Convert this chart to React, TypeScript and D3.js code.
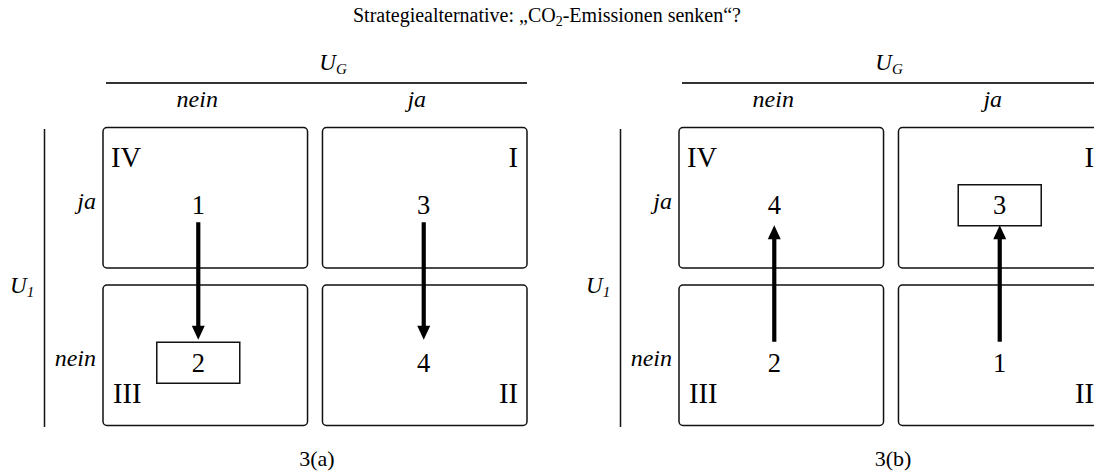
import React from "react";
import * as d3 from "d3";

const title = "Strategiealternative: „CO";
const titleSub = "2";
const titleEnd = "-Emissionen senken“?";
const colVar = "U";
const colVarSub = "G";
const rowVar = "U";
const rowVarSub = "1";
const columns = ["nein", "ja"];
const rows = ["ja", "nein"];
const quadrantLabels = [
  { row: "ja", col: "nein", label: "IV", corner: "tl" },
  { row: "ja", col: "ja", label: "I", corner: "tr" },
  { row: "nein", col: "nein", label: "III", corner: "bl" },
  { row: "nein", col: "ja", label: "II", corner: "br" },
];
const panelA = [
  { row: "ja", col: "nein", value: 1 },
  { row: "ja", col: "ja", value: 3 },
  { row: "nein", col: "nein", value: 2 },
  { row: "nein", col: "ja", value: 4 },
];
const panelB = [
  { row: "ja", col: "nein", value: 4 },
  { row: "ja", col: "ja", value: 3 },
  { row: "nein", col: "nein", value: 2 },
  { row: "nein", col: "ja", value: 1 },
];
const arrowsA = [
  { col: "nein", from: "ja", to: "nein" },
  { col: "ja", from: "ja", to: "nein" },
];
const arrowsB = [
  { col: "nein", from: "nein", to: "ja" },
  { col: "ja", from: "nein", to: "ja" },
];
const panels = [
  { caption: "3(a)", values: panelA, arrows: arrowsA, highlight: { row: "nein", col: "nein" }, offset: 0, headDx: 18 },
  { caption: "3(b)", values: panelB, arrows: arrowsB, highlight: { row: "ja", col: "ja" }, offset: 576, headDx: -2 },
];

const FONT = "'Liberation Serif', 'Times New Roman', serif";
const W = 1094;
const H = 473;

const x = d3.scaleBand<string>().domain(columns).range([103, 527]).paddingInner(0.068);
const y = d3.scaleBand<string>().domain(rows).range([127.5, 425.5]).paddingInner(0.108);
const colDx: Record<string, number> = { nein: -7, ja: -1 };
const digitDy = 7.5;

function Panel({ p }: { p: typeof panels[number] }) {
  const bw = x.bandwidth();
  const bh = y.bandwidth();
  const cx = (c: string) => (x(c) as number) + bw / 2 + colDx[c];
  const cy = (r: string) => (y(r) as number) + bh / 2 + digitDy;
  const [x0, x1] = x.range();
  const [y0, y1] = y.range();
  return (
    <g transform={`translate(${p.offset},0)`}>
      {/* column header */}
      <text x={(x0 + x1) / 2 + p.headDx} y={70} fontFamily={FONT} fontSize={23} fontStyle="italic" textAnchor="middle">
        {colVar}
        <tspan fontSize={15} dy={4}>{colVarSub}</tspan>
      </text>
      <line x1={x0 + 3} x2={x1} y1={83} y2={83} stroke="#333" strokeWidth={2} />
      {columns.map((c) => (
        <text key={c} x={(x(c) as number) + bw / 2 - 8} y={107} fontFamily={FONT} fontSize={24} fontStyle="italic" textAnchor="middle">
          {c}
        </text>
      ))}
      {/* row header */}
      <text x={10} y={293} fontFamily={FONT} fontSize={23} fontStyle="italic">
        {rowVar}
        <tspan fontSize={15} dy={4}>{rowVarSub}</tspan>
      </text>
      <line x1={44.5} x2={44.5} y1={y0 + 1.5} y2={y1 + 1.5} stroke="#111" strokeWidth={1.5} />
      {rows.map((r) => (
        <text key={r} x={96} y={(y(r) as number) + bh / 2 + 11} fontFamily={FONT} fontSize={24} fontStyle="italic" textAnchor="end">
          {r}
        </text>
      ))}
      {/* cells */}
      {quadrantLabels.map((q) => {
        const qx = x(q.col) as number;
        const qy = y(q.row) as number;
        const right = q.corner.endsWith("r");
        const top = q.corner.startsWith("t");
        return (
          <g key={q.label}>
            <rect x={qx} y={qy} width={bw} height={bh} rx={4} fill="none" stroke="#111" strokeWidth={1.5} />
            <text
              x={right ? qx + bw - 9 : qx + (top ? 8 : 10)}
              y={top ? qy + 39.5 : qy + bh - 22.5}
              fontFamily={FONT}
              fontSize={28.5}
              textAnchor={right ? "end" : "start"}
            >
              {q.label}
            </text>
          </g>
        );
      })}
      {/* highlight */}
      <rect
        x={cx(p.highlight.col) - 41.5}
        y={cy(p.highlight.row) - 20.5}
        width={83}
        height={41}
        fill="white"
        stroke="#111"
        strokeWidth={1.5}
      />
      {/* values */}
      {p.values.map((v) => (
        <text key={v.row + v.col} x={cx(v.col)} y={cy(v.row) + 9} fontFamily={FONT} fontSize={26.5} textAnchor="middle">
          {v.value}
        </text>
      ))}
      {/* arrows */}
      {p.arrows.map((a, i) => {
        const ax = cx(a.col);
        const down = (y(a.to) as number) > (y(a.from) as number);
        const start = cy(a.from) + (down ? 17 : -21);
        const tip = cy(a.to) + (down ? -23 : 20);
        const dir = down ? 1 : -1;
        const headLen = 14;
        return (
          <g key={i}>
            <line x1={ax} x2={ax} y1={start} y2={tip - dir * (headLen - 2)} stroke="#000" strokeWidth={4.2} />
            <path d={`M${ax},${tip} L${ax - 6.5},${tip - dir * headLen} L${ax + 6.5},${tip - dir * headLen} Z`} fill="#000" />
          </g>
        );
      })}
      <text x={(x0 + x1) / 2 + 2} y={466} fontFamily={FONT} fontSize={22} textAnchor="middle">
        {p.caption}
      </text>
    </g>
  );
}

export default function App() {
  return (
    <svg width={W} height={H} style={{ position: "absolute", left: 0, top: 0, background: "white" }}>
      <rect width={W} height={H} fill="white" />
      <text x={W / 2} y={22} fontFamily={FONT} fontSize={20} textAnchor="middle">
        {title}
        <tspan fontSize={14} dy={4}>{titleSub}</tspan>
        <tspan dy={-4}>{titleEnd}</tspan>
      </text>
      {panels.map((p) => (
        <Panel key={p.caption} p={p} />
      ))}
    </svg>
  );
}
